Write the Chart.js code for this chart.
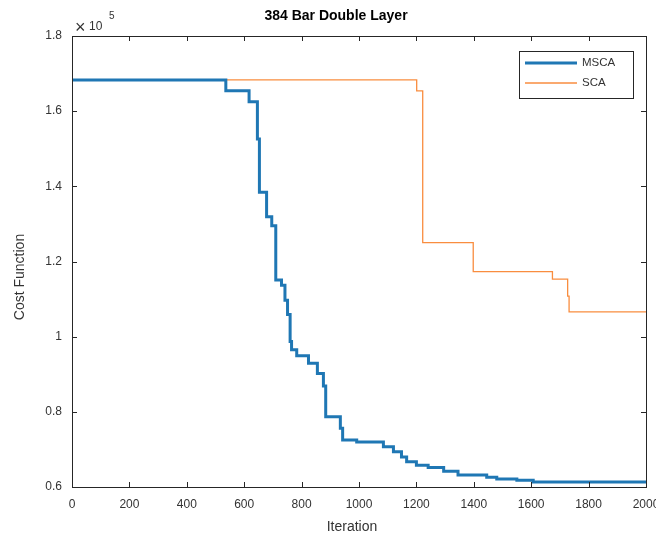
<!DOCTYPE html>
<html>
<head>
<meta charset="utf-8">
<script src="https://cdn.jsdelivr.net/npm/chart.js@4.4.1/dist/chart.umd.min.js"></script>
<style>
  html, body { margin: 0; padding: 0; background: #fff; overflow: hidden; }
  #wrap { width: 656px; height: 538px; }
</style>
</head>
<body>
<div id="wrap"><canvas id="chart"></canvas></div>
<script>
// iteration where the best cost changes, and the new cost
const mscaIter = [0, 536, 617, 646, 653, 678, 696, 710, 730, 742, 751, 760, 765, 783, 824, 855, 876, 884, 935, 943, 992, 1085, 1120, 1148, 1166, 1200, 1241, 1295, 1345, 1445, 1480, 1550, 1607, 2000];
const mscaCost = [168300, 165400, 162500, 152600, 138400, 131900, 129500, 115100, 113700, 109700, 105900, 98700, 96500, 94900, 92900, 90200, 86900, 78700, 75600, 72500, 72000, 70700, 69400, 68000, 66700, 65800, 65200, 64200, 63200, 62600, 62100, 61800, 61300, 61300];

const scaIter = [0, 1201, 1222, 1398, 1674, 1727, 1732, 2000];
const scaCost = [168300, 165400, 125000, 117300, 115300, 110800, 106600, 106600];

const xTicks = [0, 200, 400, 600, 800, 1000, 1200, 1400, 1600, 1800, 2000];
const yTicks = [60000, 80000, 100000, 120000, 140000, 160000, 180000];

const toPoints = (xs, ys) => xs.map((x, i) => ({ x: x, y: ys[i] }));

const axisColor = '#262626';
const textColor = '#333333';
const font = 'Liberation Sans, Arial, sans-serif';

// MATLAB style box with inward ticks, titles, exponent label and legend
const matlabBox = {
  id: 'matlabBox',
  afterDraw: (chart) => {
    const ctx = chart.ctx;
    const a = chart.chartArea;
    const xs = chart.scales.x, ys = chart.scales.y;
    ctx.save();
    ctx.strokeStyle = axisColor;
    ctx.lineWidth = 1;
    ctx.strokeRect(a.left + 0.5, a.top + 0.5, a.right - a.left, a.bottom - a.top);
    ctx.beginPath();
    xTicks.forEach((t) => {
      const px = Math.round(xs.getPixelForValue(t)) + 0.5;
      ctx.moveTo(px, a.bottom); ctx.lineTo(px, a.bottom - 5);
      ctx.moveTo(px, a.top); ctx.lineTo(px, a.top + 5);
    });
    yTicks.forEach((t) => {
      const py = Math.round(ys.getPixelForValue(t)) + 0.5;
      ctx.moveTo(a.left, py); ctx.lineTo(a.left + 5, py);
      ctx.moveTo(a.right, py); ctx.lineTo(a.right - 5, py);
    });
    ctx.stroke();

    // title and axis titles
    ctx.textAlign = 'center';
    ctx.textBaseline = 'middle';
    ctx.fillStyle = '#000';
    ctx.font = 'bold 14px ' + font;
    ctx.fillText('384 Bar Double Layer', 336, 16);
    ctx.fillStyle = textColor;
    ctx.font = '14px ' + font;
    ctx.fillText('Iteration', 352, 527);
    ctx.save();
    ctx.translate(20, 277);
    ctx.rotate(-Math.PI / 2);
    ctx.fillText('Cost Function', 0, 0);
    ctx.restore();

    // x 10^5
    ctx.textAlign = 'left';
    ctx.textBaseline = 'alphabetic';
    ctx.font = '18px ' + font;
    ctx.fillText('\u00d7', a.left + 3, a.top - 3);
    ctx.font = '12px ' + font;
    ctx.fillText('10', a.left + 17, a.top - 6);
    ctx.font = '10px ' + font;
    ctx.fillText('5', a.left + 37, a.top - 17);

    // legend
    const lx = 519, ly = 51, lw = 114, lh = 47;
    ctx.fillStyle = '#fff';
    ctx.fillRect(lx, ly, lw, lh);
    ctx.strokeStyle = axisColor;
    ctx.lineWidth = 1;
    ctx.strokeRect(lx + 0.5, ly + 0.5, lw, lh);
    chart.data.datasets.forEach((ds, i) => {
      const y = ly + 12 + i * 20;
      ctx.strokeStyle = ds.borderColor;
      ctx.lineWidth = ds.borderWidth;
      ctx.beginPath();
      ctx.moveTo(lx + 6, y); ctx.lineTo(lx + 58, y);
      ctx.stroke();
      ctx.fillStyle = textColor;
      ctx.font = '11.5px ' + font;
      ctx.textBaseline = 'middle';
      ctx.fillText(ds.label, lx + 63, y);
    });
    ctx.restore();
  }
};

new Chart(document.getElementById('chart'), {
  type: 'line',
  data: {
    datasets: [
      {
        label: 'MSCA',
        data: toPoints(mscaIter, mscaCost),
        borderColor: '#1f77b4',
        borderWidth: 3,
        stepped: 'before',
        pointRadius: 0,
      },
      {
        label: 'SCA',
        data: toPoints(scaIter, scaCost),
        borderColor: '#f98d3f',
        borderWidth: 1.3,
        stepped: 'before',
        pointRadius: 0,
      }
    ],
  },
  options: {
    responsive: true,
    maintainAspectRatio: false,
    animation: false,
    events: [],
    layout: { padding: { left: 0, right: 10, top: 36, bottom: 0 } },
    plugins: {
      legend: { display: false },
      tooltip: { enabled: false },
      title: { display: false },
    },
    scales: {
      x: {
        type: 'linear',
        min: 0,
        max: 2000,
        afterBuildTicks: (scale) => { scale.ticks = xTicks.map((v) => ({ value: v })); },
        afterFit: (scale) => { scale.paddingRight = 0; scale.height = 51; },
        grid: { display: false, drawTicks: false },
        border: { display: false },
        ticks: { color: textColor, font: { family: font, size: 12 }, padding: 10, maxRotation: 0, callback: (v) => String(v) },
      },
      y: {
        min: 60000,
        max: 180000,
        afterBuildTicks: (scale) => { scale.ticks = yTicks.map((v) => ({ value: v })); },
        afterFit: (scale) => { scale.width = 72; },
        grid: { display: false, drawTicks: false },
        border: { display: false },
        ticks: {
          color: textColor,
          font: { family: font, size: 12 },
          padding: 10,
          callback: (v) => String(+(v / 100000).toFixed(1)),
        },
      },
    },
  },
  plugins: [matlabBox],
});
</script>
</body>
</html>
